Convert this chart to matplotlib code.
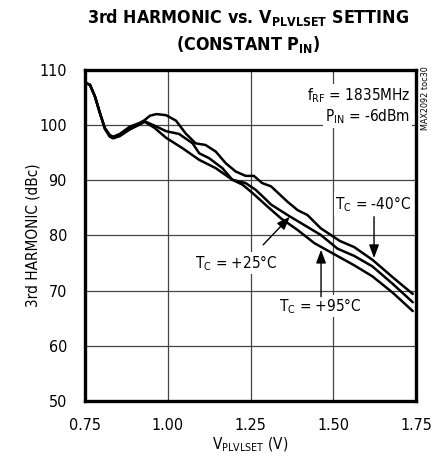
import matplotlib
matplotlib.use("Agg")
import matplotlib.pyplot as plt

# condensed face to get close to the narrow datasheet lettering
FONT = "DejaVu Sans"
plt.rcParams['font.family'] = [FONT]
plt.rcParams['font.stretch'] = 'condensed'
plt.rcParams['mathtext.fontset'] = 'custom'
plt.rcParams['mathtext.rm'] = FONT + ':stretch=condensed'
plt.rcParams['mathtext.it'] = FONT + ':stretch=condensed'
plt.rcParams['mathtext.bf'] = FONT + ':bold:stretch=condensed'

# ---- data ----
v_m40 = [0.75, 0.765, 0.78, 0.795, 0.81, 0.825, 0.835, 0.855, 0.885, 0.915, 0.93,
         0.946, 0.966, 0.995, 1.025, 1.054, 1.084, 1.114, 1.145, 1.175, 1.205,
         1.235, 1.26, 1.285, 1.312, 1.362, 1.392, 1.422, 1.462, 1.52, 1.563,
         1.618, 1.68, 1.74]
h_m40 = [107.7, 107.3, 105.2, 102.2, 99.5, 98.2, 97.9, 98.4, 99.7, 100.4, 100.9,
         101.7, 102.0, 101.8, 100.8, 98.5, 96.7, 96.4, 95.2, 93.1, 91.6,
         90.8, 90.8, 89.5, 88.9, 86.1, 84.6, 83.7, 81.3, 79.0, 77.9,
         75.6, 72.4, 69.4]

v_p25 = [0.75, 0.765, 0.78, 0.795, 0.81, 0.825, 0.835, 0.855, 0.885, 0.915, 0.93,
         0.96, 0.995, 1.034, 1.075, 1.095, 1.125, 1.165, 1.195, 1.235, 1.265,
         1.295, 1.312, 1.362, 1.412, 1.462, 1.513, 1.563, 1.618, 1.68, 1.74]
h_p25 = [107.7, 107.3, 105.2, 102.2, 99.4, 98.0, 97.7, 98.2, 99.4, 100.2, 100.7,
         99.9, 98.9, 98.4, 96.7, 94.9, 94.0, 92.2, 90.1, 89.5, 88.3,
         86.6, 85.6, 83.7, 81.9, 80.1, 77.6, 76.3, 74.4, 71.2, 67.9]

v_p95 = [0.75, 0.765, 0.78, 0.795, 0.81, 0.825, 0.835, 0.855, 0.885, 0.915, 0.93,
         0.96, 0.995, 1.045, 1.095, 1.145, 1.195, 1.226, 1.256, 1.302, 1.342,
         1.392, 1.443, 1.503, 1.563, 1.618, 1.68, 1.74]
h_p95 = [107.7, 107.3, 105.2, 102.2, 99.3, 97.9, 97.6, 98.0, 99.2, 100.1, 100.6,
         99.5, 97.7, 95.8, 93.7, 92.2, 90.1, 89.2, 87.7, 85.2, 83.1,
         81.0, 78.6, 76.6, 74.6, 72.6, 69.6, 66.3]

x_ticks = [0.75, 1.00, 1.25, 1.50, 1.75]
x_labels = ["0.75", "1.00", "1.25", "1.50", "1.75"]
y_ticks = [50, 60, 70, 80, 90, 100, 110]

fig = plt.figure(figsize=(4.45, 4.65), dpi=100)
ax = fig.add_axes([0.191, 0.1376, 0.744, 0.712])

for v, h in [(v_m40, h_m40), (v_p25, h_p25), (v_p95, h_p95)]:
    ax.plot(v, h, color='black', lw=1.8, solid_joinstyle='round',
            solid_capstyle='round', zorder=3)

ax.set_xlim(0.75, 1.75)
ax.set_ylim(50, 110)
ax.set_xticks(x_ticks)
ax.set_xticklabels(x_labels)
ax.set_yticks(y_ticks)
ax.tick_params(length=0, labelsize=11.5)
ax.tick_params(axis='x', pad=12)
ax.tick_params(axis='y', pad=13)
ax.grid(True, color='#444444', lw=0.9)
for s in ax.spines.values():
    s.set_linewidth(2.4)

ax.set_ylabel("3rd HARMONIC (dBc)", fontsize=11, labelpad=-1)
ax.set_xlabel(r"V$_{\mathrm{PLVLSET}}$ (V)", fontsize=11, labelpad=2)

fig.text(0.557, 0.962, r"3rd HARMONIC vs. V$_{\mathbf{PLVLSET}}$ SETTING",
         ha='center', va='center', fontsize=12.8, fontweight='bold')
fig.text(0.557, 0.905, r"(CONSTANT P$_{\mathbf{IN}}$)",
         ha='center', va='center', fontsize=12.8, fontweight='bold')

# conditions box
ax.text(1.732, 105.4, r"f$_{\mathrm{RF}}$ = 1835MHz", ha='right', va='center',
        fontsize=11, zorder=4,
        bbox=dict(facecolor='white', edgecolor='none', pad=1.5))
ax.text(1.732, 101.6, r"P$_{\mathrm{IN}}$ = -6dBm", ha='right', va='center',
        fontsize=11, zorder=4,
        bbox=dict(facecolor='white', edgecolor='none', pad=1.5))

fig.text(0.957, 0.79, "MAX2092 toc30", rotation=90, ha='center', va='center',
         fontsize=6.5)

arrow = dict(arrowstyle='-|>,head_length=0.8,head_width=0.3', color='black',
             lw=1.0, shrinkA=0, shrinkB=0)

ax.annotate("", xy=(1.623, 75.9), xytext=(1.623, 83.4), arrowprops=arrow, zorder=5)
ax.text(1.62, 85.6, r"T$_{\mathrm{C}}$ = -40°C", ha='center', va='center',
        fontsize=11, zorder=4,
        bbox=dict(facecolor='white', edgecolor='none', pad=1.0))

ax.annotate("", xy=(1.369, 83.4), xytext=(1.288, 78.3), arrowprops=arrow, zorder=5)
ax.text(1.333, 75.0, r"T$_{\mathrm{C}}$ = +25°C", ha='right', va='center',
        fontsize=11, zorder=4,
        bbox=dict(facecolor='white', edgecolor='none', pad=1.0))

ax.annotate("", xy=(1.463, 77.4), xytext=(1.463, 68.9), arrowprops=arrow, zorder=5)
ax.text(1.46, 67.2, r"T$_{\mathrm{C}}$ = +95°C", ha='center', va='center',
        fontsize=11, zorder=4,
        bbox=dict(facecolor='white', edgecolor='none', pad=1.0))

fig.savefig("out.png", dpi=100)
